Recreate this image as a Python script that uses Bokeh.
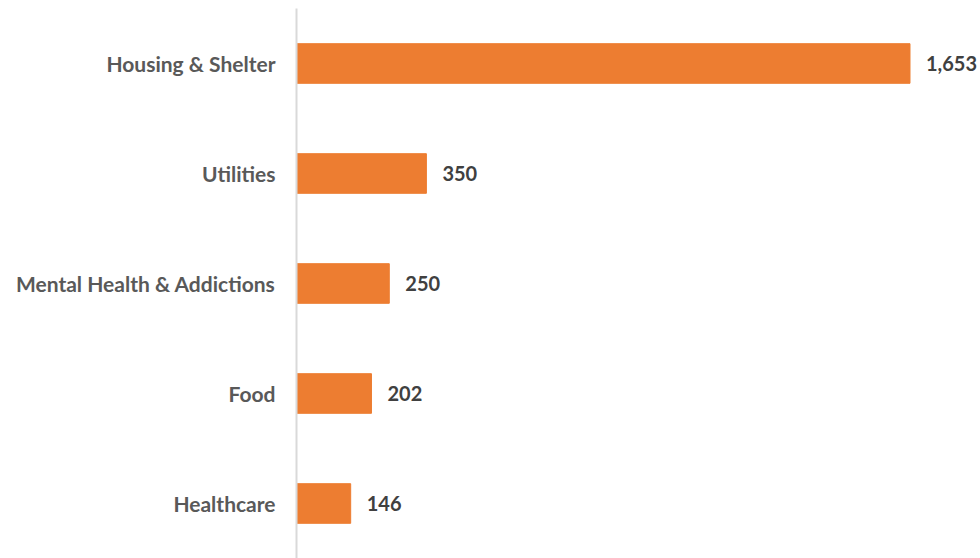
from bokeh.plotting import figure
from bokeh.models import ColumnDataSource, FactorRange
from bokeh.core.properties import value
from bokeh.embed import file_html
from bokeh.resources import INLINE

categories = ["Housing & Shelter", "Utilities", "Mental Health & Addictions", "Food", "Healthcare"]
counts = [1653, 350, 250, 202, 146]
count_labels = ["1,653", "350", "250", "202", "146"]

FONT = "Lato"
source = ColumnDataSource(data=dict(cat=categories, val=counts, lab=count_labels))

p = figure(
    width=980, height=558,
    y_range=FactorRange(*reversed(categories), range_padding=0),
    x_range=(0, 1843),
    output_backend="svg", toolbar_location=None,
    min_border_left=296, min_border_top=8, min_border_bottom=0, min_border_right=0,
)
p.hbar(y="cat", right="val", left=0, height=0.36, color="#ED7D31", source=source)
p.text(x="val", y="cat", text="lab", source=source, x_offset=16,
       text_baseline="middle", text_align="left",
       text_font=value(FONT), text_font_style="bold", text_font_size="20px",
       text_color="#404040")

p.xaxis.visible = False
p.xgrid.visible = False
p.ygrid.visible = False
p.outline_line_color = None
p.background_fill_color = "white"
p.border_fill_color = "white"

ax = p.yaxis[0]
ax.axis_line_color = "#D9D9D9"
ax.axis_line_width = 2
ax.major_tick_line_color = None
ax.minor_tick_line_color = None
ax.major_tick_out = 0
ax.major_tick_in = 0
ax.major_label_standoff = 21
ax.major_label_text_font = FONT
ax.major_label_text_font_style = "bold"
ax.major_label_text_font_size = "21px"
ax.major_label_text_color = "#595959"

open("out.html", "w").write(file_html(p, INLINE))
